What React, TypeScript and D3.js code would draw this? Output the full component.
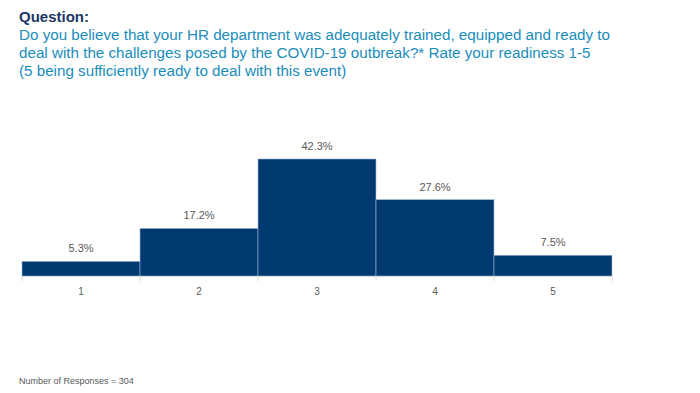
import React, { useEffect, useRef } from 'react';
import * as d3 from 'd3';

const categories = ['1', '2', '3', '4', '5'];
const values = [5.3, 17.2, 42.3, 27.6, 7.5];
const questionLines = [
  'Do you believe that your HR department was adequately trained, equipped and ready to',
  'deal with the challenges posed by the COVID-19 outbreak?* Rate your readiness 1-5',
  '(5 being sufficiently ready to deal with this event)',
];
const footnote = 'Number of Responses = 304';

const App: React.FC = () => {
  const ref = useRef<SVGSVGElement>(null);

  useEffect(() => {
    if (!ref.current) return;
    const svg = d3.select(ref.current);
    svg.selectAll('*').remove();

    const font = 'Liberation Sans, Arial, Helvetica, sans-serif';
    const left = 22;
    const right = 612;
    const baseline = 276;

    // title block
    svg.append('text')
      .attr('x', 19)
      .attr('y', 22)
      .attr('font-family', font)
      .attr('font-size', 15)
      .attr('font-weight', 'bold')
      .attr('fill', '#1c3767')
      .text('Question:');

    svg.selectAll('.q')
      .data(questionLines)
      .enter().append('text')
      .attr('class', 'q')
      .attr('x', 19)
      .attr('y', (d, i) => 40 + i * 18)
      .attr('font-family', font)
      .attr('font-size', 15.2)
      .attr('fill', '#1a8dba')
      .text(d => d);

    const x = d3.scaleBand()
      .domain(categories)
      .range([left, right])
      .padding(0);

    const y = d3.scaleLinear()
      .domain([0, 50])
      .range([baseline, baseline - 138.3]);

    const g = svg.append('g');

    g.selectAll('.bar')
      .data(values)
      .enter().append('rect')
      .attr('class', 'bar')
      .attr('x', (d, i) => x(categories[i]) || 0)
      .attr('width', x.bandwidth())
      .attr('y', d => y(d))
      .attr('height', d => baseline - y(d))
      .attr('fill', '#003a70')
      .attr('stroke', '#9db4cf')
      .attr('stroke-width', 0.6);

    g.selectAll('.val')
      .data(values)
      .enter().append('text')
      .attr('class', 'val')
      .attr('x', (d, i) => (x(categories[i]) || 0) + x.bandwidth() / 2)
      .attr('y', d => y(d) - 9)
      .attr('text-anchor', 'middle')
      .attr('font-family', font)
      .attr('font-size', 11)
      .attr('fill', '#595959')
      .text(d => `${d.toFixed(1)}%`);

    // axis
    const axis = g.append('g')
      .attr('transform', `translate(0,${baseline})`)
      .call(d3.axisBottom(x).tickSize(0).tickPadding(12));
    axis.select('.domain').attr('stroke', '#d9d9d9');
    axis.selectAll('text')
      .attr('font-family', font)
      .attr('font-size', 10)
      .attr('fill', '#595959');

    const bounds = categories.map(c => x(c) || 0).concat([right]);
    g.selectAll('.tk')
      .data(bounds)
      .enter().append('line')
      .attr('class', 'tk')
      .attr('x1', d => d)
      .attr('x2', d => d)
      .attr('y1', baseline)
      .attr('y2', baseline + 5)
      .attr('stroke', '#d9d9d9');

    svg.append('text')
      .attr('x', 19)
      .attr('y', 384)
      .attr('font-family', font)
      .attr('font-size', 9)
      .attr('fill', '#595959')
      .text(footnote);
  }, []);

  return (
    <svg
      ref={ref}
      width={700}
      height={393}
      style={{ position: 'absolute', left: 0, top: 0, background: '#fff' }}
    />
  );
};

export default App;
